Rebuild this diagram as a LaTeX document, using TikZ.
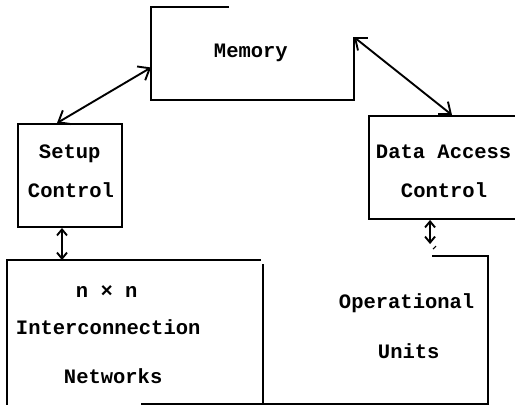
\documentclass[tikz,border=0pt]{standalone}
\usepackage{fontspec}
\setmonofont{Liberation Mono}
\usepackage{tikz}
\usetikzlibrary{arrows.meta}

\begin{document}
\begin{tikzpicture}[x=1pt,y=-1pt,line width=1.9pt,
    box/.style={rectangle,inner sep=0pt},
    lbl/.style={anchor=base west,inner sep=0pt,font=\ttfamily\bfseries\fontsize{20.5}{24}\selectfont},
    link/.style={{Straight Barb[length=10pt,width=16pt]}-{Straight Barb[length=10pt,width=16pt]}},
    shortlink/.style={{Straight Barb[length=6pt,width=10pt]}-{Straight Barb[length=6pt,width=10pt]}}]
    \useasboundingbox (0,0) rectangle (515,405);
    % boxes (some sides are left open)
    \node[box,minimum width=201pt,minimum height=91pt] (mem) at (252.5,53.5) {};
    \node[box,draw,minimum width=104pt,minimum height=103pt] (setup) at (70,175.5) {};
    \node[box,draw,minimum width=171pt,minimum height=103pt] (dac) at (454.5,167.5) {};
    \node[box,minimum width=254pt,minimum height=142pt] (net) at (135,332) {};
    \node[box,minimum width=225pt,minimum height=146pt] (op) at (374.5,330) {};
    \draw ([xshift=78pt]mem.north west) -- (mem.north west) -- (mem.south west) -- (mem.south east) -- ([yshift=-30pt]mem.north east);
    \draw ([xshift=-2pt]net.north east) -- (net.north west) -- ([yshift=-4pt]net.south west);
    \draw ([yshift=-4pt]net.north east) -- (net.south east);
    \draw ([xshift=171pt]op.north west) -- (op.north east) -- (op.south east) -- ([xshift=-120pt]op.south west);
    % texts
    \node[lbl] (tmem) at (213,57) {Memory};
    \node[lbl] (tsetup) at (38,158) {Setup};
    \node[lbl] (tctla) at (27,197) {Control};
    \node[lbl] (tdata) at (375,158) {Data Access};
    \node[lbl] (tctlb) at (400,197) {Control};
    \node[lbl] (tnn) at (75,297) {n × n};
    \node[lbl] (tinter) at (15,334) {Interconnection};
    \node[lbl] (tnet) at (63,383) {Networks};
    \node[lbl] (toper) at (338,308) {Operational};
    \node[lbl] (tunits) at (377,358) {Units};
    % connectors
    \draw[link] ([yshift=-14pt]mem.west) -- ([xshift=-13pt]setup.north);
    \draw[link] ([yshift=-30pt]mem.north east) -- ([xshift=-2.5pt]dac.north);
    \draw[shortlink] ([xshift=-8pt]setup.south) -- ([xshift=-8pt]setup.south |- net.north);
    \coordinate (opin) at ([xshift=169pt,yshift=12pt]op.north west);
    \draw[shortlink] (opin) -- (opin |- dac.south);
    \draw[line width=1.2pt] ([xshift=3pt,yshift=-5pt]opin) -- ([xshift=6pt,yshift=-2pt]opin);
\end{tikzpicture}
\end{document}
